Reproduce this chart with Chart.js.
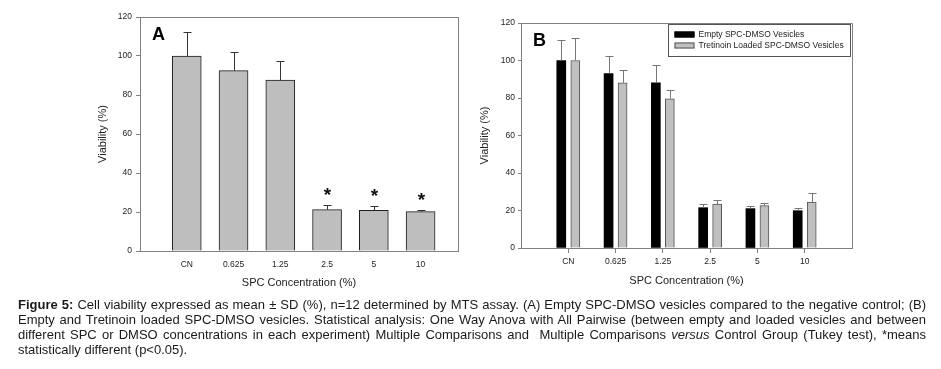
<!DOCTYPE html>
<html>
<head>
<meta charset="utf-8">
<script src="https://cdn.jsdelivr.net/npm/chart.js@4.4.0/dist/chart.umd.min.js"></script>
<style>
  body { margin: 0; background: #fff; width: 941px; height: 369px; overflow: hidden; position: relative;
         font-family: "Liberation Sans", Arial, sans-serif; }
  #chartA { position: absolute; left: 80px; top: 0; }
  #chartB { position: absolute; left: 470px; top: 0; }
  #caption { position: absolute; left: 18px; top: 297px; width: 908px; font-size: 13px; line-height: 15px; color: #1a1a1a; }
  #caption div { text-align: justify; text-align-last: justify; }
  #caption div.last { text-align-last: left; }
</style>
</head>
<body>
<canvas id="chartA" width="390" height="300"></canvas>
<canvas id="chartB" width="400" height="300"></canvas>
<div id="caption">
  <div><b>Figure 5:</b> Cell viability expressed as mean ± SD (%), n=12 determined by MTS assay. (A) Empty SPC-DMSO vesicles compared to the negative control; (B)</div>
  <div>Empty and Tretinoin loaded SPC-DMSO vesicles. Statistical analysis: One Way Anova with All Pairwise (between empty and loaded vesicles and between</div>
  <div>different SPC or DMSO concentrations in each experiment) Multiple Comparisons and &nbsp;Multiple Comparisons <i>versus</i> Control Group (Tukey test), *means</div>
  <div class="last">statistically different (p&lt;0.05).</div>
</div>
<script>
// x categories (SPC concentration, %)
const categories = ["CN", "0.625", "1.25", "2.5", "5", "10"];
const yTicks = [0, 20, 40, 60, 80, 100, 120];

// panel A: empty SPC-DMSO vesicles vs control
const panelAMean = [100, 92.5, 87.6, 21.2, 20.8, 20.2];
const panelASD = [12.1, 9.4, 9.7, 2.2, 2.1, 0.7];
const panelASignificant = [false, false, false, true, true, true];

// panel B: empty vs tretinoin loaded
const emptyMean = [100, 93.0, 88.1, 21.5, 21.0, 19.9];
const emptySD = [10.9, 9.4, 9.5, 2.0, 1.4, 1.2];
const loadedMean = [100, 88.1, 79.6, 23.4, 22.6, 24.5];
const loadedSD = [12.2, 6.8, 4.7, 2.0, 1.6, 5.0];

Chart.defaults.font.family = '"Liberation Sans", Arial, sans-serif';
Chart.defaults.color = "#222";

const toPoints = (vals) => vals.map((v, i) => ({ x: i + 1, y: v }));

// upper whiskers (mean + SD) and optional asterisks
const errorBars = {
    id: "errorBars",
    afterDatasetsDraw(chart, args, opts) {
        const ctx = chart.ctx;
        const yScale = chart.scales.y;
        chart.data.datasets.forEach((ds, di) => {
            const meta = chart.getDatasetMeta(di);
            meta.data.forEach((bar, i) => {
                const top = Math.round(yScale.getPixelForValue(ds.data[i].y + ds.sd[i])) + 0.5;
                const x = Math.round(bar.x) + 0.5;
                ctx.save();
                ctx.strokeStyle = ds.errorColor;
                ctx.lineWidth = 1;
                ctx.beginPath();
                ctx.moveTo(x, bar.y);
                ctx.lineTo(x, top);
                ctx.moveTo(x - opts.cap, top);
                ctx.lineTo(x + opts.cap, top);
                ctx.stroke();
                if (ds.significant && ds.significant[i]) {
                    ctx.fillStyle = "#111";
                    ctx.font = "bold 19px Arial";
                    ctx.textAlign = "center";
                    ctx.textBaseline = "alphabetic";
                    ctx.fillText("*", x, top - 5);
                }
                ctx.restore();
            });
        });
    }
};

// box round the plot plus the panel letter
const frame = {
    id: "frame",
    afterDraw(chart, args, opts) {
        const { ctx, chartArea: a } = chart;
        ctx.save();
        ctx.strokeStyle = "#808080";
        ctx.lineWidth = 1;
        ctx.beginPath();
        ctx.moveTo(Math.round(a.left) + 0.5, Math.round(a.top) + 0.5);
        ctx.lineTo(Math.round(a.right) + 0.5, Math.round(a.top) + 0.5);
        ctx.lineTo(Math.round(a.right) + 0.5, Math.round(a.bottom) + 0.5);
        ctx.stroke();
        ctx.fillStyle = "#000";
        ctx.font = "bold 18px Arial";
        ctx.textBaseline = "alphabetic";
        ctx.fillText(opts.letter, a.left + 12, a.top + 23);
        ctx.restore();
    }
};

// small boxed legend in the upper right of panel B
const boxLegend = {
    id: "boxLegend",
    afterDraw(chart, args, opts) {
        if (!opts.show) return;
        const { ctx, chartArea: a } = chart;
        const x0 = Math.round(a.right) - 183.5, y0 = Math.round(a.top) + 1.5;
        ctx.save();
        ctx.fillStyle = "#fff";
        ctx.fillRect(x0, y0, 182, 32);
        ctx.strokeStyle = "#555";
        ctx.lineWidth = 1;
        ctx.strokeRect(x0, y0, 182, 32);
        ctx.font = "8.5px Arial";
        ctx.textBaseline = "middle";
        chart.data.datasets.forEach((ds, i) => {
            const cy = y0 + 10 + i * 11;
            ctx.fillStyle = ds.backgroundColor;
            ctx.fillRect(x0 + 6, cy - 3, 20, 6);
            ctx.strokeStyle = ds.borderColor;
            ctx.strokeRect(x0 + 6.5, cy - 2.5, 19, 5);
            ctx.fillStyle = "#222";
            ctx.fillText(ds.label, x0 + 30, cy);
        });
        ctx.restore();
    }
};

function makeScales(o) {
    return {
        x: {
            type: "linear",
            min: 0,
            max: o.xMax,
            offset: false,
            afterBuildTicks: (scale) => {
                scale.ticks = categories.map((c, i) => ({ value: i + 1 }));
            },
            afterFit: (scale) => { scale.height = o.xHeight; },
            ticks: {
                callback: (v) => categories[v - 1],
                font: { size: 8.5 },
                padding: o.xPad,
                maxRotation: 0
            },
            grid: { offset: false, drawOnChartArea: false, drawTicks: o.xTicks, tickLength: 5, color: "#808080" },
            border: { color: "#808080" },
            title: { display: true, text: "SPC Concentration (%)", font: { size: 11 }, padding: { top: 0, bottom: o.xTitlePad } }
        },
        y: {
            min: 0,
            max: 120,
            afterBuildTicks: (scale) => {
                scale.ticks = yTicks.map((v) => ({ value: v }));
            },
            afterFit: (scale) => { scale.width = o.yWidth; },
            ticks: { font: { size: 8.5 }, padding: o.yPad },
            grid: { drawOnChartArea: false, tickLength: o.yTick, color: "#808080" },
            border: { color: "#808080" },
            title: { display: true, text: "Viability (%)", font: { size: 11 }, padding: { top: o.yTitlePad, bottom: 0 } }
        }
    };
}

new Chart(document.getElementById("chartA"), {
    type: "bar",
    data: {
        datasets: [{
            label: "Empty SPC-DMSO Vesicles",
            data: toPoints(panelAMean),
            sd: panelASD,
            significant: panelASignificant,
            errorColor: "#333",
            backgroundColor: "#bebebe",
            borderColor: "#1e1e1e",
            borderWidth: 1,
            barThickness: 29
        }]
    },
    options: {
        responsive: false,
        animation: false,
        layout: { padding: { left: 0, right: 12, top: 17, bottom: 0 } },
        plugins: {
            legend: { display: false },
            tooltip: { enabled: false },
            errorBars: { cap: 4 },
            frame: { letter: "A" },
            boxLegend: { show: false }
        },
        scales: makeScales({ xMax: 6.8, xHeight: 49, xPad: 9, xTicks: false, xTitlePad: 10,
                             yWidth: 60, yPad: 4, yTick: 4, yTitlePad: 16 })
    },
    plugins: [errorBars, frame, boxLegend]
});

new Chart(document.getElementById("chartB"), {
    type: "bar",
    data: {
        datasets: [{
            label: "Empty SPC-DMSO Vesicles",
            data: toPoints(emptyMean),
            sd: emptySD,
            errorColor: "#777",
            backgroundColor: "#000",
            borderColor: "#000",
            borderWidth: 0,
            barThickness: 14,
            maxBarThickness: 9
        }, {
            label: "Tretinoin Loaded SPC-DMSO Vesicles",
            data: toPoints(loadedMean),
            sd: loadedSD,
            errorColor: "#777",
            backgroundColor: "#c0c0c0",
            borderColor: "#555",
            borderWidth: 1,
            barThickness: 14,
            maxBarThickness: 9
        }]
    },
    options: {
        responsive: false,
        animation: false,
        layout: { padding: { left: 0, right: 18, top: 23, bottom: 0 } },
        plugins: {
            legend: { display: false },
            tooltip: { enabled: false },
            errorBars: { cap: 4 },
            frame: { letter: "B" },
            boxLegend: { show: true }
        },
        scales: makeScales({ xMax: 7, xHeight: 52, xPad: 4, xTicks: true, xTitlePad: 12,
                             yWidth: 51, yPad: 3, yTick: 3, yTitlePad: 8 })
    },
    plugins: [errorBars, frame, boxLegend]
});
</script>
</body>
</html>
